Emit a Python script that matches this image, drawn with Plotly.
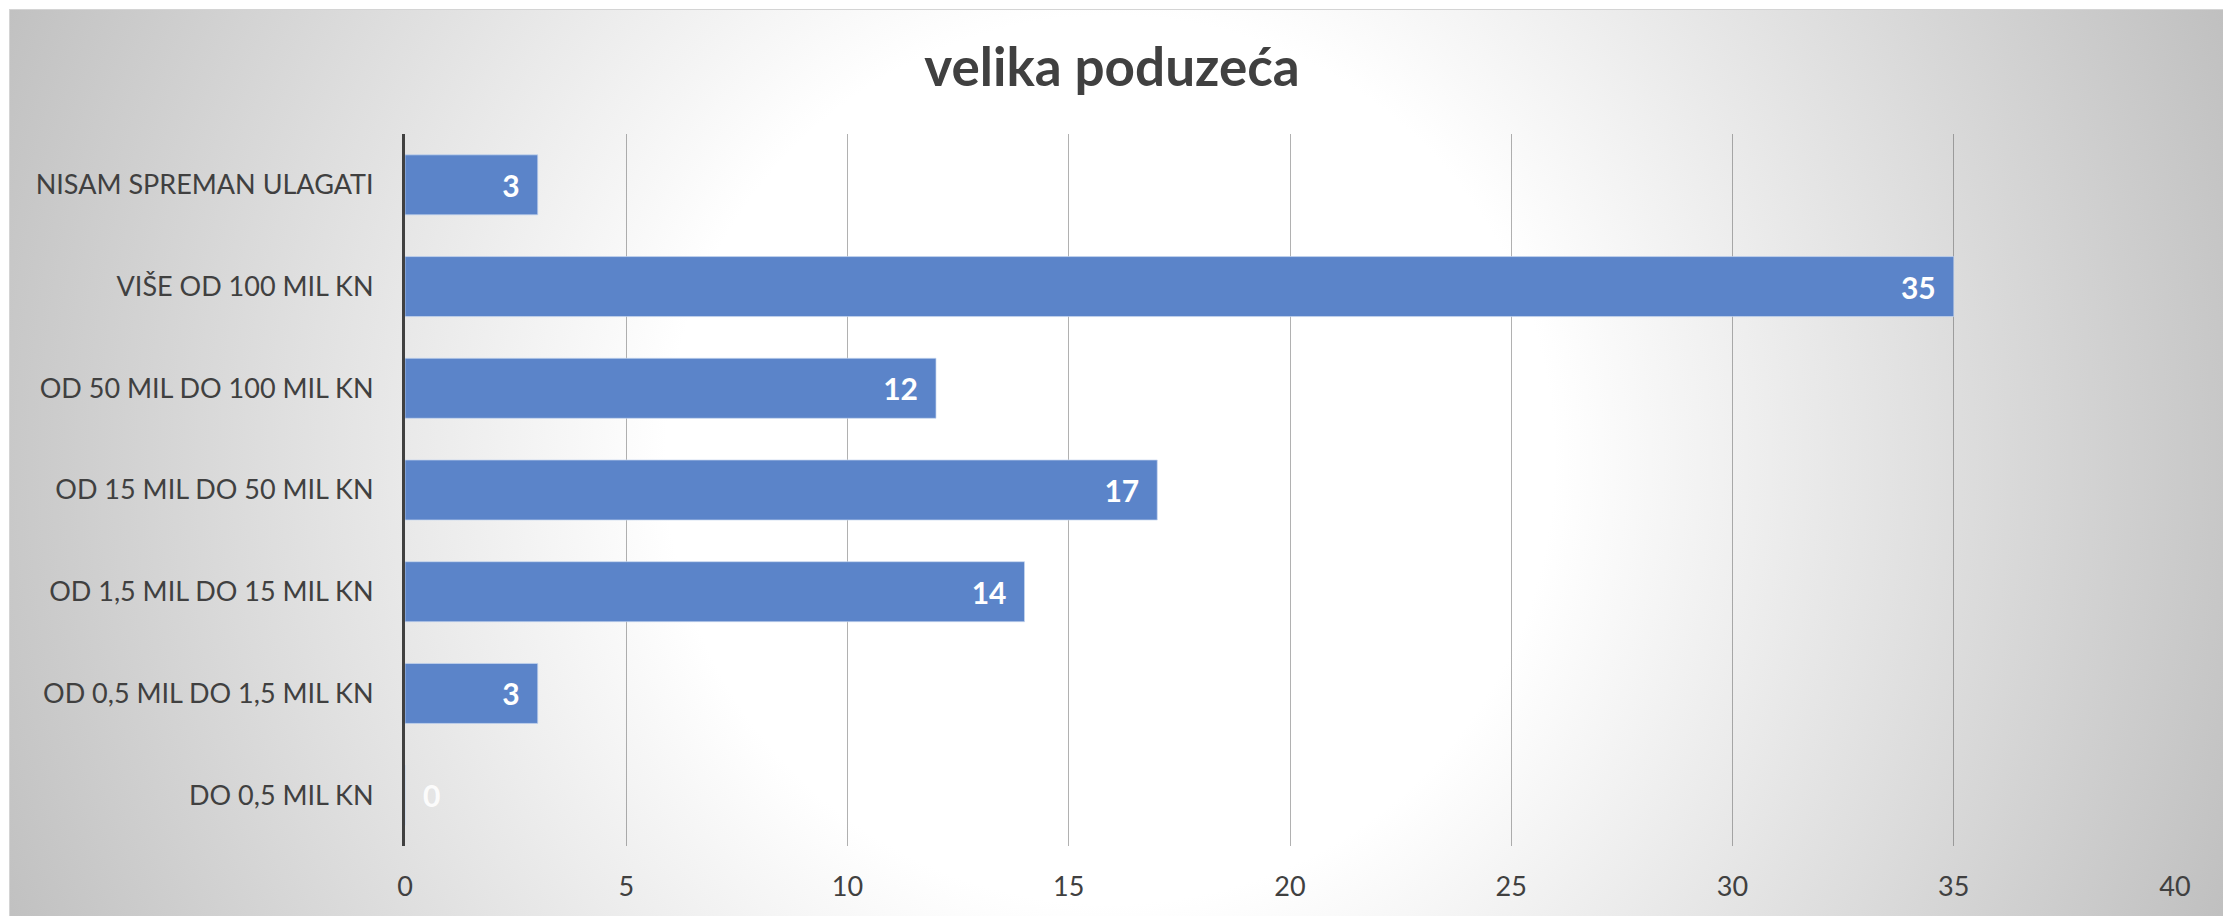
import base64
import plotly.graph_objects as go

categories = [
    "DO 0,5 MIL KN",
    "OD 0,5 MIL DO 1,5 MIL KN",
    "OD 1,5 MIL DO 15 MIL KN",
    "OD 15 MIL DO 50 MIL KN",
    "OD 50 MIL DO 100 MIL KN",
    "VIŠE OD 100 MIL KN",
    "NISAM SPREMAN ULAGATI",
]
values = [0, 3, 14, 17, 12, 35, 3]
x_ticks = [0, 5, 10, 15, 20, 25, 30, 35, 40]
title_text = "velika poduzeća"

W, H = 2223, 916
L, R, T, B = 405, 48, 134, 70
pw, ph = W - L - R, H - T - B

svg = (
    f'<svg xmlns="http://www.w3.org/2000/svg" width="{W}" height="{H}" viewBox="0 0 {W} {H}" preserveAspectRatio="none">'
    '<defs><radialGradient id="g" gradientUnits="userSpaceOnUse" cx="1110" cy="460" r="1200">'
    '<stop offset="0" stop-color="#ffffff"/><stop offset="0.37" stop-color="#ffffff"/>'
    '<stop offset="1" stop-color="#c0c0c0"/></radialGradient></defs>'
    f'<rect x="0" y="0" width="{W}" height="{H}" fill="#ffffff"/>'
    f'<rect x="9.5" y="9.5" width="{W-9}" height="{H-9}" fill="url(#g)" stroke="#d4d4d4" stroke-width="1"/></svg>'
)
src = "data:image/svg+xml;base64," + base64.b64encode(svg.encode("utf-8")).decode("ascii")

positions = ["outside" if v == 0 else "inside" for v in values]
templates = ["\u2002<b>%{x}</b>" if v == 0 else "<b>%{x}</b>\u2002" for v in values]

fig = go.Figure(
    go.Bar(
        x=values,
        y=categories,
        orientation="h",
        marker=dict(color="#5B84C9", line=dict(color="rgba(200,215,240,0.7)", width=1)),
        texttemplate=templates,
        textposition=positions,
        insidetextanchor="end",
        textfont=dict(family="Lato", size=30, color="white"),
        outsidetextfont=dict(family="Lato", size=30, color="rgba(255,255,255,0.9)"),
        constraintext="none",
        cliponaxis=False,
        hoverinfo="skip",
    )
)

fig.update_layout(
    width=W,
    height=H,
    margin=dict(l=L, r=R, t=T, b=B),
    paper_bgcolor="white",
    plot_bgcolor="rgba(0,0,0,0)",
    bargap=0.41,
    showlegend=False,
    title=dict(
        text=f"<b>{title_text}</b>",
        x=1112 / W,
        xref="container",
        xanchor="center",
        y=1 - 67 / H,
        yref="container",
        yanchor="middle",
        font=dict(family="Lato", size=53, color="#404040"),
    ),
    font=dict(family="Lato", color="#404040"),
    images=[
        dict(
            source=src,
            xref="paper",
            yref="paper",
            x=-L / pw,
            y=1 + T / ph,
            sizex=W / pw,
            sizey=H / ph,
            sizing="stretch",
            xanchor="left",
            yanchor="top",
            layer="below",
        )
    ],
)

fig.update_xaxes(
    range=[0, 40],
    tickvals=x_ticks,
    showgrid=True,
    gridcolor="rgba(70,70,70,0.42)",
    gridwidth=1,
    zeroline=False,
    showline=False,
    ticks="",
    ticklabelstandoff=22,
    tickfont=dict(family="Lato", size=27, color="#404040"),
    fixedrange=True,
)
fig.update_yaxes(
    type="category",
    categoryorder="array",
    categoryarray=categories,
    showgrid=False,
    zeroline=False,
    showline=True,
    linecolor="#404040",
    linewidth=3,
    ticks="",
    ticklabelstandoff=23,
    tickfont=dict(family="Lato", size=27, color="#404040"),
    fixedrange=True,
)

fig.write_html(
    "out.html",
    config={"displayModeBar": False},
    post_script="document.body.style.margin='0';document.body.style.overflow='hidden';",
)
